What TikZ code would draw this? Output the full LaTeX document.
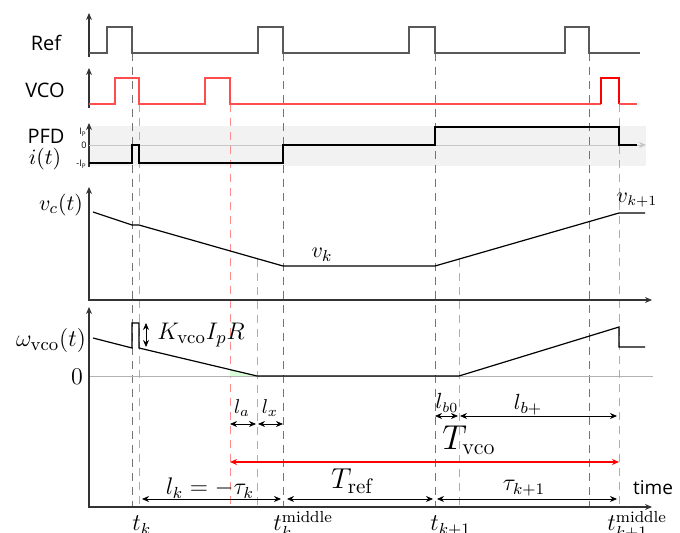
\documentclass[tikz,border=0pt]{standalone}
\usepackage{amsmath}
\usepackage{fontspec}
\newfontfamily\sigfont{Open Sans}
\usetikzlibrary{arrows.meta}

\begin{document}
\begin{tikzpicture}[x=0.5pt,y=-0.5pt,>={Stealth[length=3.5pt,width=3pt]},
  sig/.style={semithick},
  axis/.style={semithick,black!80,->},
  refdash/.style={black!55,dash pattern=on 4pt off 3pt},
  vcodash/.style={red!45,dash pattern=on 4pt off 3pt},
  dim/.style={<->,thin},
  lab/.style={font=\sigfont\fontsize{10}{12}\selectfont},
  tick/.style={anchor=east,inner sep=0.5pt,font=\sigfont\fontsize{4.5}{5}\selectfont},
  mth/.style={font=\fontsize{#1}{#1}\selectfont}]
  \useasboundingbox (0,0) rectangle (680,533);
  % PFD band
  \fill[gray!10] (89,126) rectangle (646,166);
  % edge markers
  \foreach \x in {132,283,435,589}
    \draw[refdash] (\x,53) -- (\x,507);
  \foreach \x in {139,230,619}
    \draw[vcodash] (\x,104) -- (\x,507);
  \draw[vcodash] (257,259) -- (257,507);
  \draw[vcodash] (459,259) -- (459,507);
  % Ref
  \draw[axis] (89,57) -- (89,13);
  \draw[sig,black!65] (89,53) -- (107,53) -- (107,27) -- (132,27) -- (132,53)
    -- (258,53) -- (258,27) -- (283,27) -- (283,53)
    -- (409,53) -- (409,27) -- (435,27) -- (435,53)
    -- (565,53) -- (565,27) -- (589,27) -- (589,53) -- (640,53);
  \node[lab] (ref) at (46,43) {Ref};
  % VCO
  \draw[axis] (89,108) -- (89,68);
  \draw[sig,red!70] (89,104) -- (115,104) -- (115,78) -- (139,78) -- (139,104)
    -- (205,104) -- (205,78) -- (230,78) -- (230,104) -- (601,104);
  \draw[sig,red] (601,104) -- (601,78) -- (619,78) -- (619,104);
  \draw[sig,red!70] (619,104) -- (637,104);
  \node[lab] (vco) at (45,90) {VCO};
  % PFD current
  \draw[axis] (89,167) -- (89,123);
  \draw[gray!45,->] (89,145) -- (646,145);
  \draw[sig] (89,163) -- (132,163) -- (132,145) -- (139,145) -- (139,163)
    -- (283,163) -- (283,145) -- (435,145) -- (435,127) -- (619,127)
    -- (619,145) -- (637,145);
  \node[tick] (ipos) at (88,132) {I\textsubscript{P}};
  \node[tick] (izero) at (88,145) {0};
  \node[tick] (ineg) at (88,164) {-I\textsubscript{P}};
  \node[lab] (pfd) at (46,136) {PFD};
  \node[mth=11] (it) at (45,159) {$i(t)$};
  % control voltage
  \draw[semithick,black!80,<->] (89,187) -- (89,300) -- (652,300);
  \draw[sig] (93,212) -- (132,225) -- (139,225) -- (283,266) -- (435,266)
    -- (619,213) -- (645,213);
  \node[mth=11] (vc) at (61,205) {$v_c(t)$};
  \node[mth=11] (vk) at (322,255) {$v_k$};
  \node[mth=10.5] (vk1) at (637,200) {$v_{k+1}$};
  % vco frequency
  \fill[green!15] (230,376) -- (230,369.6) -- (257,376) -- cycle;
  \draw[gray!60] (89,376) -- (653,376);
  \draw[sig] (93,338) -- (132,348) -- (132,323) -- (139,323) -- (139,348)
    -- (257,376) -- (459,376) -- (619,327) -- (619,347) -- (645,347);
  \draw[dim] (146,323) -- (146,347);
  \node[mth=13] (kip) at (201,335) {$K_{\mathrm{vco}}I_pR$};
  \node[mth=13] (wvco) at (51,341) {$\omega_{\mathrm{vco}}(t)$};
  \node[mth=12] (zero) at (77,377) {$0$};
  % time axis
  \draw[semithick,black!80,<->] (89,307) -- (89,507) -- (652,507);
  \node[lab,font=\sigfont\fontsize{9.5}{11}\selectfont] (time) at (653,488) {time};
  % intervals
  \draw[dim] (230,424) -- (256,424);
  \draw[dim] (258,424) -- (283,424);
  \node[mth=10] (la) at (242,408) {$l_a$};
  \node[mth=10] (lx) at (270,408) {$l_x$};
  \draw[dim] (435,416) -- (458,416);
  \draw[dim] (460,416) -- (617,416);
  \node[mth=10.5] (lb0) at (447,403) {$l_{b0}$};
  \node[mth=11] (lbp) at (528,405) {$l_{b+}$};
  \draw[<->,red,semithick] (230,462) -- (619,462);
  \node[mth=16] (tvco) at (469,440) {$T_{\mathrm{vco}}$};
  \draw[dim] (142,499) -- (281,499);
  \draw[dim] (287,499) -- (433,499);
  \draw[dim] (437,499) -- (617,499);
  \node[mth=12] (lk) at (210,488) {$l_k=-\tau_k$};
  \node[mth=15] (tref) at (352,481) {$T_{\mathrm{ref}}$};
  \node[mth=12] (tau) at (524,488) {$\tau_{k+1}$};
  % sampling instants
  \node[mth=12,anchor=base west,inner sep=0pt] (tk) at (132,531) {$t_k$};
  \node[mth=12,anchor=base west,inner sep=0pt] (tkm) at (273,531) {$t_k^{\mathrm{middle}}$};
  \node[mth=12,anchor=base west,inner sep=0pt] (tk1) at (430,531) {$t_{k+1}$};
  \node[mth=12,anchor=base west,inner sep=0pt] (tk1m) at (607,531) {$t_{k+1}^{\mathrm{middle}}$};
\end{tikzpicture}
\end{document}
